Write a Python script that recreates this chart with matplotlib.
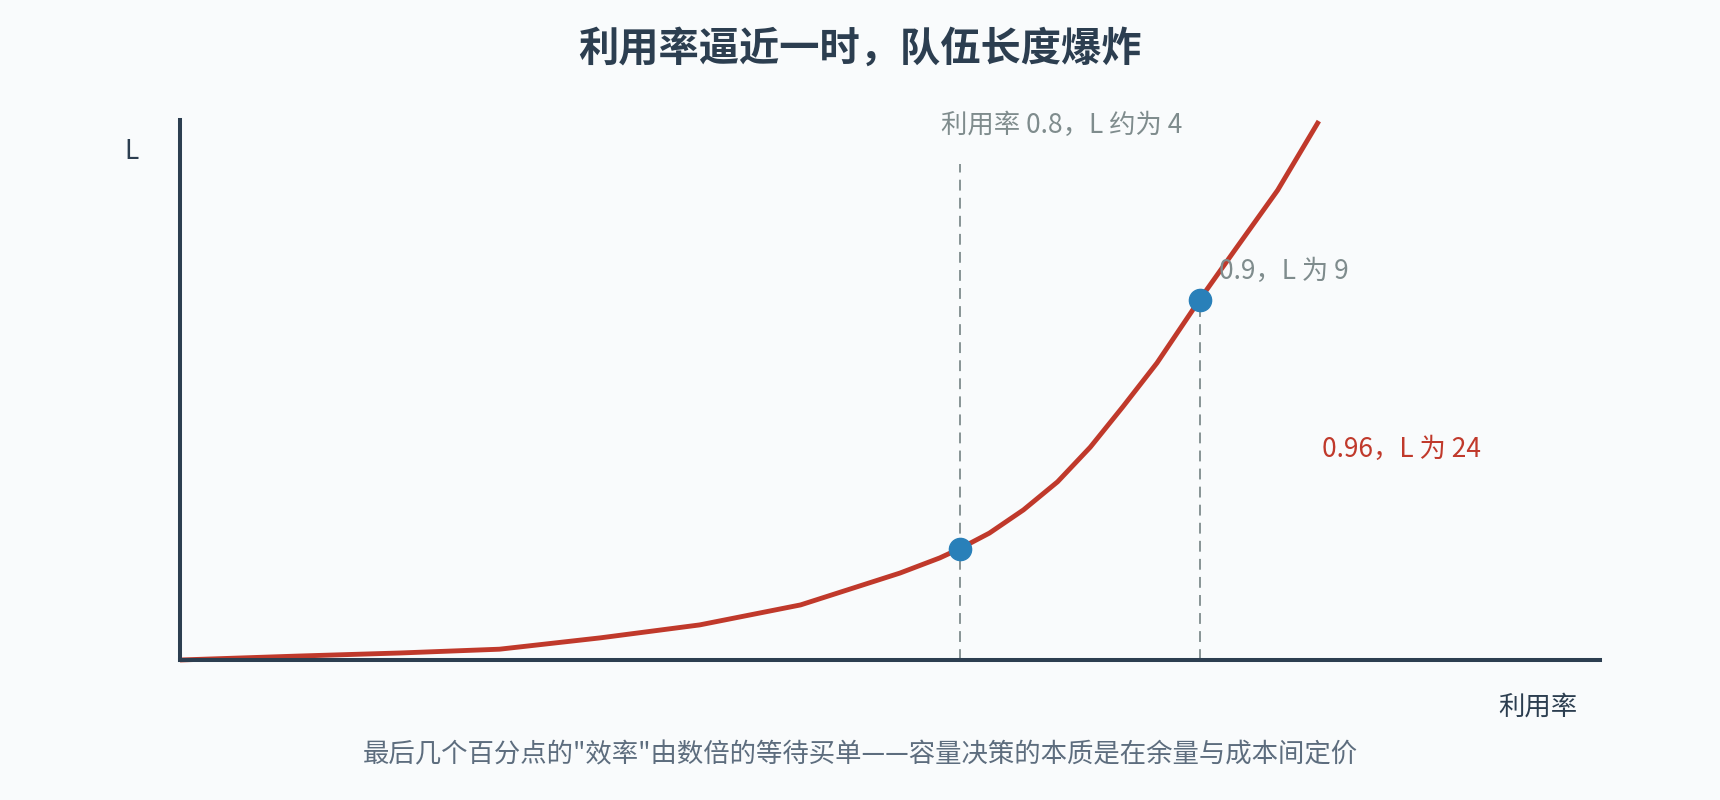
import matplotlib
matplotlib.use('Agg')
import matplotlib.pyplot as plt

plt.rcParams['font.family'] = ['Noto Sans CJK SC', 'DejaVu Sans']

# curve (x: axis position 0-100, y: axis height 0-100)
util_pos = [0, 8.45, 15.5, 22.5, 29.6, 36.6, 43.7, 50.7, 53.5, 54.9, 57.0, 59.4,
            61.8, 64.1, 66.4, 68.8, 71.8, 74.2, 77.3, 80.2]
queue_len = [0, 0.74, 1.3, 2.0, 4.1, 6.5, 10.2, 16.1, 18.9, 20.6, 23.5, 27.8,
             33.0, 39.4, 46.9, 55.0, 66.7, 75.6, 87.0, 99.8]

# highlighted points (rho = 0.8 and rho = 0.9)
mark_idx = [9, 16]
guide_top = [91.9, None]  # 0.8 guide runs up to the label, 0.9 guide stops at the point

title = '利用率逼近一时，队伍长度爆炸'
subtitle = '最后几个百分点的"效率"由数倍的等待买单——容量决策的本质是在余量与成本间定价'
note_08 = '利用率 0.8，L 约为 4'
note_09 = '0.9，L 为 9'
note_096 = '0.96，L 为 24'

bg = '#f9fbfc'
dark = '#2c3e50'
red = '#c0392b'
blue = '#2980b9'
grey = '#7f8c8d'

fig = plt.figure(figsize=(17.2, 8), dpi=100, facecolor=bg)
ax = fig.add_axes([180 / 1720, 140 / 800, 1420 / 1720, 540 / 800])
ax.set_facecolor(bg)
ax.set_xlim(0, 100)
ax.set_ylim(0, 100)

for side in ['top', 'right']:
    ax.spines[side].set_visible(False)
for side in ['left', 'bottom']:
    ax.spines[side].set_color(dark)
    ax.spines[side].set_linewidth(2.9)
ax.set_xticks([])
ax.set_yticks([])

# dashed guides
for i, top in zip(mark_idx, guide_top):
    ymax = top if top is not None else queue_len[i]
    ax.plot([util_pos[i], util_pos[i]], [0, ymax], color=grey, lw=1.3,
            dashes=(6, 4), zorder=1, clip_on=False)

ax.plot(util_pos, queue_len, color=red, lw=3.5, solid_capstyle='butt',
        solid_joinstyle='round', zorder=2, clip_on=False)
ax.plot([util_pos[i] for i in mark_idx], [queue_len[i] for i in mark_idx],
        'o', color=blue, markersize=16, zorder=3, clip_on=False)

ax.text(62.1, 98.9, note_08, color=grey, fontsize=19, ha='center', va='center')
ax.text(73.2, 71.9, note_09, color=grey, fontsize=19, ha='left', va='center')
ax.text(80.4, 38.9, note_096, color=red, fontsize=19, ha='left', va='center')

ax.text(95.6, -8.7, '利用率', color=dark, fontsize=19, ha='center', va='center', clip_on=False)
ax.text(-3.4, 94.1, 'L', color=dark, fontsize=19, ha='center', va='center', clip_on=False)

fig.text(0.5, 1 - 49 / 800, title, color=dark, fontsize=29, fontweight='bold',
         ha='center', va='center')
fig.text(0.5, 1 - 755 / 800, subtitle, color='#5d6d7e', fontsize=19,
         ha='center', va='center')

fig.savefig('out.png', dpi=100, facecolor=bg)
